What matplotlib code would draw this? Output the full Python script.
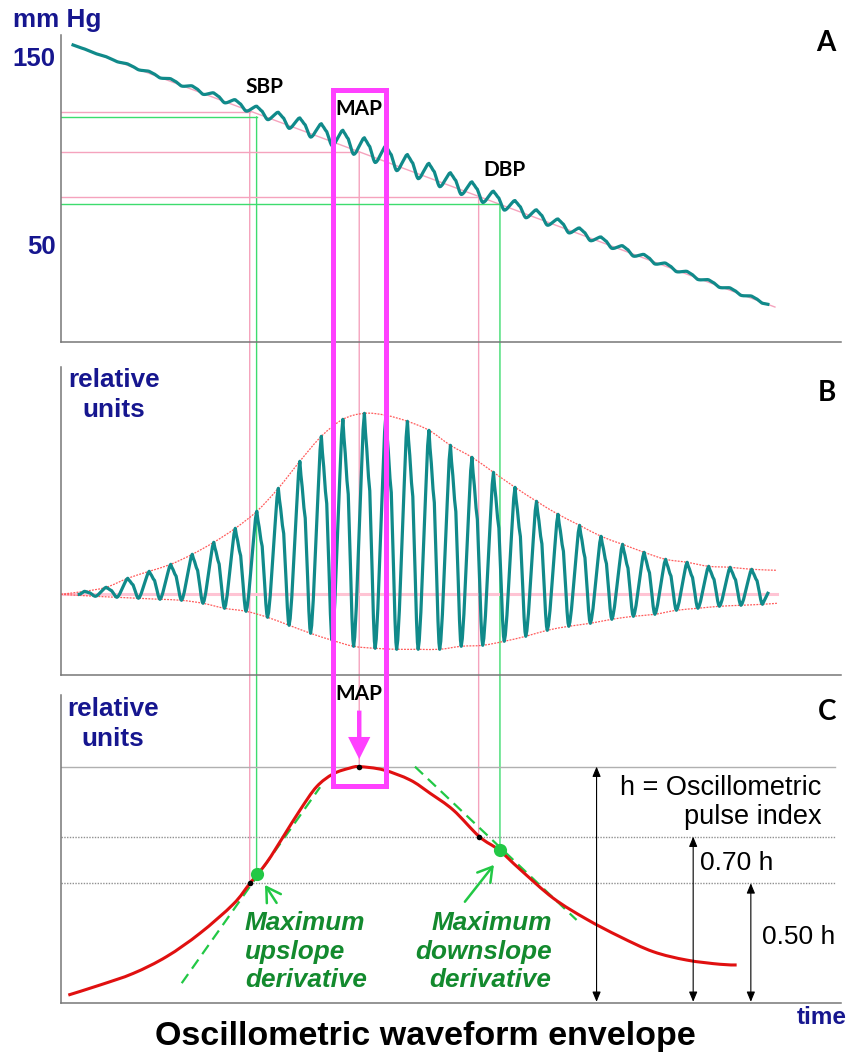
import numpy as np
import matplotlib
matplotlib.use('Agg')
import matplotlib.pyplot as plt
from matplotlib.patches import ConnectionPatch, Rectangle, FancyArrowPatch, PathPatch
from matplotlib.path import Path

plt.rcParams['font.family'] = ['Liberation Sans', 'DejaVu Sans']

# --- data -------------------------------------------------------------------
# time axis in heart beats from start of cuff deflation
beat_count = 32
first_peak = 1.1
fall_time = 0.5
wave_start, wave_end, wave_end_level = 0.85, 32.85, 0.1

# panel B: height of each pulse peak and of the trough that follows (relative units)
upper_env = [0.3, 0.7, 1.6, 2.3, 3.0, 4.0, 5.2, 6.6, 8.3, 10.6, 13.3, 15.8, 17.5, 18.1, 17.9, 17.3,
             16.4, 14.9, 13.7, 12.2, 10.7, 9.3, 8.0, 6.9, 5.8, 5.0, 4.2, 3.5, 3.2, 2.8, 2.7, 2.5]
lower_env = [-0.2, -0.3, -0.4, -0.5, -0.6, -0.9, -1.4, -1.7, -2.3, -3.1, -3.9, -4.6, -5.2, -5.4, -5.5, -5.5,
             -5.5, -5.2, -5.1, -4.7, -4.2, -3.6, -3.2, -2.9, -2.5, -2.2, -2.0, -1.6, -1.4, -1.2, -1.1, -1.0]
env_end_t, env_end_upper, env_end_lower = 33.27, 2.4, -0.9

# shape of one pulse: (fraction of time, fraction of height)
rise_shape = [(0, 0), (0.1, 0.04), (0.25, 0.17), (0.45, 0.42), (0.7, 0.72), (0.88, 0.93), (1, 1)]
fall_shape = [(0, 1), (0.1, 0.92), (0.22, 0.85), (0.38, 0.73), (0.5, 0.67), (0.6, 0.52),
              (0.72, 0.33), (0.84, 0.13), (0.93, 0.03), (1, 0)]

# panel A: linear cuff deflation (mmHg) and oscillation scale
cuff_t = [0.56, 33.18]
cuff_p = [156.4, 17.0]
osc_mmhg = 0.47

# markers: time, cuff pressure, envelope level in panel C
mark_t = [8.77, 9.09, 13.86, 19.41, 20.4]
mark_p = [120.9, 118.2, 99.3, 75.7, 71.6]
mark_h = [0.50, 0.539, 1.0, 0.70, 0.643]
mark_green = [False, True, False, False, True]

# panel C: oscillometric envelope (fraction of h)
env_t = [0.34, 1.81, 3.36, 4.91, 6.46, 8.01, 8.78, 9.56, 10.33, 11.11, 11.88, 12.65, 13.43, 13.86,
         14.98, 16.22, 17.15, 18.23, 19.44, 20.35, 21.33, 22.88, 24.43, 25.98, 27.52, 29.08, 30.62, 31.4]
env_h = [0.021, 0.064, 0.114, 0.186, 0.286, 0.411, 0.50, 0.589, 0.70, 0.814, 0.914, 0.969, 0.994, 1.0,
         0.986, 0.943, 0.886, 0.814, 0.70, 0.643, 0.56, 0.436, 0.346, 0.271, 0.207, 0.171, 0.153, 0.15]
levels = [1.0, 0.70, 0.50]
up_tan_t, up_tan_h = [5.61, 12.04], [0.072, 0.912]
down_tan_t, down_tan_h = [16.45, 23.96], [1.0, 0.343]

# --- colours ----------------------------------------------------------------
TEAL = '#108a8a'
PINK = '#f5a3bd'
GREEN = '#3ddc6e'
DGREEN = '#138a2e'
BGREEN = '#22c845'
MAGENTA = '#ff40ff'
NAVY = '#16168f'
AXIS = '#777777'

W, H = 853, 1052
fig = plt.figure(figsize=(W / 100, H / 100), dpi=100)


def add_panel(top, bottom):
    ax = fig.add_axes([61 / W, 1 - bottom / H, 780 / W, (bottom - top) / H])
    ax.set_facecolor('none')
    for s in ['top', 'right']:
        ax.spines[s].set_visible(False)
    for s in ['left', 'bottom']:
        ax.spines[s].set_color(AXIS)
        ax.spines[s].set_linewidth(1.1)
    ax.set_xlim(0, 36.25)
    ax.set_xticks([])
    ax.set_yticks([])
    return ax


def smooth_line(ax, x, y, **kw):
    # Catmull-Rom curve through the points, drawn as cubic Bezier segments
    pts = np.column_stack([x, y]).astype(float)
    n = len(pts)
    verts, codes = [pts[0]], [Path.MOVETO]
    for i in range(n - 1):
        p0, p1 = pts[max(i - 1, 0)], pts[i]
        p2, p3 = pts[i + 1], pts[min(i + 2, n - 1)]
        verts += [p1 + (p2 - p0) / 6, p2 - (p3 - p1) / 6, p2]
        codes += [Path.CURVE4] * 3
    ax.add_patch(PathPatch(Path(verts, codes), fill=False, **kw))


axA = add_panel(35, 342)
axB = add_panel(366.7, 675)
axC = add_panel(695, 1003)
axA.set_ylim(-1.6, 161.7)
axB.set_ylim(-8.07, 22.76)
axC.set_ylim(-0.013, 1.307)

# build the oscillation trace beat by beat
peaks = first_peak + np.arange(beat_count)
wt, wv = [wave_start], [0.0]
for k in range(beat_count):
    t0, v0 = wt[-1], wv[-1]
    for s, f in rise_shape[1:]:
        wt.append(t0 + s * (peaks[k] - t0))
        wv.append(v0 + f * (upper_env[k] - v0))
    for s, f in fall_shape[1:]:
        wt.append(peaks[k] + s * fall_time)
        wv.append(lower_env[k] + f * (upper_env[k] - lower_env[k]))
wt.append(wave_end)
wv.append(wave_end_level)
wt, wv = np.array(wt), np.array(wv)

# panel A: cuff pressure
axA.plot(cuff_t, cuff_p, color=PINK, lw=1.0, zorder=1)
ta = np.concatenate([[cuff_t[0]], wt])
pa = np.interp(ta, cuff_t, cuff_p) + osc_mmhg * np.concatenate([[0.0], wv])
axA.plot(ta, pa, color=TEAL, lw=2.3, zorder=3, solid_joinstyle='round')
axA.set_yticks([150, 50])
axA.set_yticklabels(['150', '50'], fontsize=18.5, fontweight='bold', color=NAVY)
axA.tick_params(axis='y', length=0, pad=4)

lab = dict(fontsize=15, fontweight='bold', family=['Lato', 'DejaVu Sans'], ha='center', va='center')
axA.text(9.48, 134.2, 'SBP', **lab)
axA.text(13.86, 122.3, 'MAP', **lab)
axA.text(20.59, 89.9, 'DBP', **lab)

# panel B: oscillations and their envelope
axB.plot([0, env_end_t], [0, 0], color='#ffc4d4', lw=2.2, zorder=1)
trough_t = peaks + fall_time
env_style = dict(color='#ff5a5a', lw=0.9, ls=(0, (1.5, 1)), zorder=2)
smooth_line(axB, np.concatenate([[0], peaks, [env_end_t]]),
            np.concatenate([[0], upper_env, [env_end_upper]]), **env_style)
smooth_line(axB, np.concatenate([[0], trough_t, [env_end_t]]),
            np.concatenate([[0], lower_env, [env_end_lower]]), **env_style)
axB.plot(wt, wv, color=TEAL, lw=2.3, zorder=3, solid_joinstyle='round')

# panel C: envelope with characteristic ratios
axC.plot([0, 35.97], [levels[0]] * 2, color='#b0b0b0', lw=1.0, zorder=1)
for lv in levels[1:]:
    axC.plot([0, 35.97], [lv, lv], color='#909090', lw=1.0, ls=(0, (1, 1)), zorder=1)
axC.plot(up_tan_t, up_tan_h, color=BGREEN, lw=1.6, ls=(0, (5, 3)), zorder=2)
axC.plot(down_tan_t, down_tan_h, color=BGREEN, lw=1.6, ls=(0, (5, 3)), zorder=2)
smooth_line(axC, env_t, env_h, color='#e01010', lw=2.2, zorder=3)

for t, h, g in zip(mark_t, mark_h, mark_green):
    if g:
        axC.plot(t, h, 'o', color=BGREEN, ms=9.5, mec='none', zorder=5)
    else:
        axC.plot(t, h, 'o', color='black', ms=4, mec='none', zorder=5)

green_txt = dict(fontsize=18.8, fontweight='bold', style='italic', color=DGREEN,
                 va='center', linespacing=1.25)
axC.text(8.55, 0.207, 'Maximum\nupslope\nderivative', ha='left', **green_txt)
axC.text(22.8, 0.207, 'Maximum\ndownslope\nderivative', ha='right', multialignment='right', **green_txt)
axC.annotate('', xy=(9.48, 0.493), xytext=(10.02, 0.416),
             arrowprops=dict(arrowstyle='->,head_length=0.5,head_width=0.3', color=BGREEN, lw=1.8,
                             mutation_scale=20, shrinkA=0, shrinkB=0))
axC.annotate('', xy=(20.12, 0.579), xytext=(18.77, 0.421),
             arrowprops=dict(arrowstyle='->,head_length=0.5,head_width=0.3', color=BGREEN, lw=1.8,
                             mutation_scale=20, shrinkA=0, shrinkB=0))

dbl = dict(arrowstyle='<|-|>,head_length=0.6,head_width=0.25', color='black', lw=0.8,
           mutation_scale=10, shrinkA=0, shrinkB=0)
for t, lv in zip([24.89, 29.38, 32.06], levels):
    axC.annotate('', xy=(t, lv), xytext=(t, -0.008), arrowprops=dbl)

axC.text(35.35, 0.846, 'h = Oscillometric\npulse index', fontsize=19.5, ha='right', va='center',
         multialignment='right', linespacing=1.12)
axC.text(29.69, 0.586, '0.70 h', fontsize=19, ha='left', va='center')
axC.text(32.56, 0.269, '0.50 h', fontsize=19, ha='left', va='center')

axC.text(13.86, 1.312, 'MAP', clip_on=False, **lab)
axC.add_patch(FancyArrowPatch((13.86, 1.252), (13.86, 1.02),
                              arrowstyle='simple,head_length=1.0,head_width=1.0,tail_width=0.2',
                              mutation_scale=16, color=MAGENTA, lw=0, clip_on=False, zorder=6))

# guide lines running from the pressure trace down to the envelope
for t, p, h, g in zip(mark_t, mark_p, mark_h, mark_green):
    col = GREEN if g else PINK
    axA.plot([0, t], [p, p], color=col, lw=1.0, zorder=1)
    fig.add_artist(ConnectionPatch(xyA=(t, p), coordsA=axA.transData, xyB=(t, h), coordsB=axC.transData,
                                   color=col, lw=1.0, zorder=-1))

# box framing the MAP beat through all panels
inv = fig.transFigure.inverted()
x0, y1 = inv.transform(axA.transData.transform((12.62, 132.4)))
x1, y0 = inv.transform(axC.transData.transform((15.09, 0.917)))
fig.add_artist(Rectangle((x0, y0), x1 - x0, y1 - y0, transform=fig.transFigure, fill=False,
                         ec=MAGENTA, lw=3.6, zorder=10))


# labels in figure space
def fig_text(px, py, s, **kw):
    fig.text(px / W, 1 - py / H, s, **kw)


navy = dict(fontsize=18.8, fontweight='bold', color=NAVY)
fig_text(13, 20, 'mm Hg', ha='left', va='center', **navy)
fig_text(114, 395, 'relative\nunits', ha='center', va='center', linespacing=1.3, **navy)
fig_text(113, 724, 'relative\nunits', ha='center', va='center', linespacing=1.3, **navy)
fig_text(822, 1017, 'time', ha='center', va='center', fontsize=17.5, fontweight='bold', color=NAVY)

panel = dict(fontsize=20, fontweight='bold', family=['Lato', 'DejaVu Sans'], ha='center', va='center')
fig_text(826, 43, 'A', **panel)
fig_text(826.7, 393, 'B', **panel)
fig_text(826.7, 712, 'C', **panel)

fig_text(425, 1037, 'Oscillometric waveform envelope', ha='center', va='center',
         fontsize=24.5, fontweight='bold')

fig.savefig('out.png', dpi=100, facecolor='white')
